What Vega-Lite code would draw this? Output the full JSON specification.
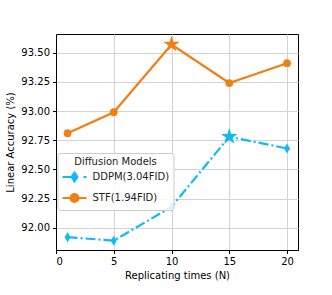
{
  "$schema": "https://vega.github.io/schema/vega-lite/v6.json",
  "width": 242,
  "height": 216,
  "autosize": "none",
  "padding": {"left": 56, "top": 34, "right": 34, "bottom": 45},
  "background": "white",
  "config": {
    "font": "DejaVu Sans",
    "view": {"stroke": "black", "strokeWidth": 1},
    "axis": {
      "labelFont": "DejaVu Sans",
      "titleFont": "DejaVu Sans",
      "labelFontSize": 10,
      "titleFontSize": 10,
      "titleFontWeight": "normal",
      "labelColor": "black",
      "titleColor": "black",
      "tickColor": "black",
      "tickSize": 3.5,
      "domainColor": "black",
      "gridColor": "#d3d3d3",
      "gridWidth": 1
    }
  },
  "data": {
    "values": [
      {"model": "DDPM(3.04FID)", "n": 1, "acc": 91.92},
      {"model": "DDPM(3.04FID)", "n": 5, "acc": 91.89},
      {"model": "DDPM(3.04FID)", "n": 10, "acc": 92.18},
      {"model": "DDPM(3.04FID)", "n": 15, "acc": 92.78},
      {"model": "DDPM(3.04FID)", "n": 20, "acc": 92.68},
      {"model": "STF(1.94FID)", "n": 1, "acc": 92.81},
      {"model": "STF(1.94FID)", "n": 5, "acc": 92.99},
      {"model": "STF(1.94FID)", "n": 10, "acc": 93.57},
      {"model": "STF(1.94FID)", "n": 15, "acc": 93.24},
      {"model": "STF(1.94FID)", "n": 20, "acc": 93.41}
    ]
  },
  "transform": [
    {"joinaggregate": [{"op": "max", "field": "acc", "as": "best"}], "groupby": ["model"]}
  ],
  "encoding": {
    "x": {
      "field": "n", "type": "quantitative",
      "scale": {"domain": [0, 20.95], "nice": false, "zero": false},
      "axis": {"values": [0, 5, 10, 15, 20], "title": "Replicating times (N)", "labelPadding": 2.5, "titlePadding": 4}
    },
    "y": {
      "field": "acc", "type": "quantitative",
      "scale": {"domain": [91.81, 93.66], "nice": false, "zero": false},
      "axis": {"values": [92, 92.25, 92.5, 92.75, 93, 93.25, 93.5], "format": ".2f", "title": "Linear Accuracy (%)", "labelPadding": 3, "titlePadding": 5}
    },
    "color": {
      "field": "model", "type": "nominal",
      "scale": {"domain": ["DDPM(3.04FID)", "STF(1.94FID)"], "range": ["#0fbaf5", "#f07f14"]},
      "legend": {
        "orient": "none",
        "legendX": 1.5,
        "legendY": 119,
        "title": "Diffusion Models",
        "titleFontSize": 10,
        "titleFontWeight": "normal",
        "titleColor": "#222222",
        "titleAnchor": "middle",
        "titlePadding": 4,
        "labelFontSize": 10,
        "labelColor": "#222222",
        "labelOffset": 19,
        "symbolSize": 100,
        "symbolStrokeWidth": 2,
        "symbolOpacity": 1,
        "padding": 4,
        "rowPadding": 4,
        "strokeColor": "#cccccc",
        "fillColor": "rgba(255,255,255,0.85)",
        "cornerRadius": 3,
        "encode": {
          "symbols": {
            "update": {
              "shape": {"signal": "datum.value == 'DDPM(3.04FID)' ? 'M-1,0H2M3.2,0H3.8M1.4,-0.9L2,0L1.4,0.9L0.8,0Z' : 'M-1,0H3.8M2.2,0A0.8,0.8,0,1,0,0.6,0A0.8,0.8,0,1,0,2.2,0Z'"},
              "fill": {"scale": "color", "field": "value"},
              "stroke": {"scale": "color", "field": "value"},
              "size": {"value": 100},
              "strokeWidth": {"value": 2},
              "opacity": {"value": 1}
            }
          }
        }
      }
    }
  },
  "layer": [
    {
      "transform": [{"filter": "datum.model == 'DDPM(3.04FID)'"}],
      "mark": {"type": "line", "strokeWidth": 2.2, "strokeDash": [10, 3, 2, 3]},
      "encoding": {"color": {"field": "model", "type": "nominal"}}
    },
    {
      "transform": [{"filter": "datum.acc < datum.best && datum.model == 'DDPM(3.04FID)'"}],
      "mark": {"type": "point", "filled": true, "opacity": 1, "shape": "M0,-1L0.6,0L0,1L-0.6,0Z", "size": 100},
      "encoding": {"color": {"field": "model", "type": "nominal"}}
    },
    {
      "transform": [{"filter": "datum.model == 'STF(1.94FID)'"}],
      "mark": {"type": "line", "strokeWidth": 2.2},
      "encoding": {"color": {"field": "model", "type": "nominal"}}
    },
    {
      "transform": [{"filter": "datum.acc < datum.best && datum.model == 'STF(1.94FID)'"}],
      "mark": {"type": "point", "filled": true, "opacity": 1, "shape": "circle", "size": 60},
      "encoding": {"color": {"field": "model", "type": "nominal"}}
    },
    {
      "transform": [{"filter": "datum.acc == datum.best"}],
      "mark": {"type": "point", "shape": "M0,-1L0.2245,-0.309L0.951,-0.309L0.363,0.118L0.588,0.809L0,0.382L-0.588,0.809L-0.363,0.118L-0.951,-0.309L-0.2245,-0.309Z", "filled": true, "size": 300, "opacity": 1},
      "encoding": {"color": {"field": "model", "type": "nominal"}}
    }
  ]
}
